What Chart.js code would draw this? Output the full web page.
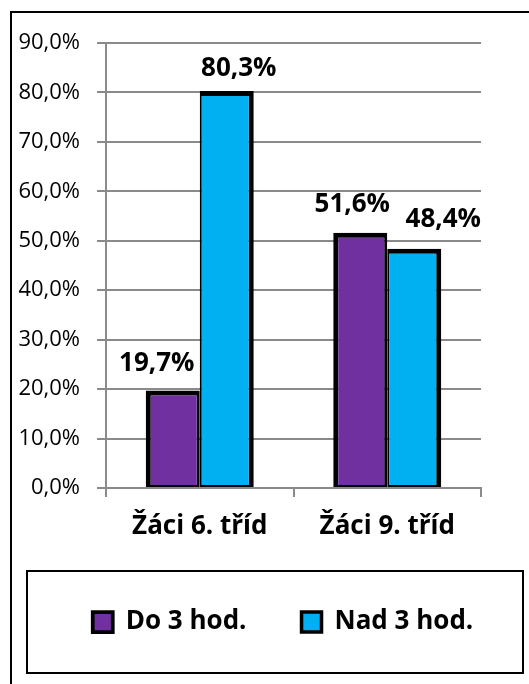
<!DOCTYPE html>
<html>
<head>
<meta charset="utf-8">
<script src="https://cdn.jsdelivr.net/npm/chart.js@4/dist/chart.umd.min.js"></script>
<style>
  html, body { margin: 0; padding: 0; background: #fff; }
  #wrap { width: 529px; height: 684px; }
</style>
</head>
<body>
<div id="wrap"><canvas id="chart" width="529" height="684"></canvas></div>
<script>
// data
var categories = ['Žáci 6. tříd', 'Žáci 9. tříd'];
var seriesNames = ['Do 3 hod.', 'Nad 3 hod.'];
var doTri = [19.7, 51.6];
var nadTri = [80.3, 48.4];
var tickLabels = ['0,0%', '10,0%', '20,0%', '30,0%', '40,0%', '50,0%', '60,0%', '70,0%', '80,0%', '90,0%'];

var FONT = "'Open Sans', sans-serif";
var GRID = '#8a8a8a';

// label nudges (dx, dy above bar top), one per bar, per dataset
var labelShift = [
    [[-16, 20], [-8, 21]],
    [[12, 15], [29, 22]]
];

function fmt(v) {
    return v.toFixed(1).replace('.', ',') + '%';
}

var framePlugin = {
    id: 'frame',
    beforeDraw: function (chart) {
        var c = chart.ctx;
        c.save();
        c.strokeStyle = '#000';
        c.lineWidth = 2;
        c.beginPath();
        c.moveTo(11, chart.height + 5);
        c.lineTo(11, 12);
        c.lineTo(chart.width + 5, 12);
        c.stroke();
        // legend box
        c.strokeRect(27, 571, 496, 102);
        c.restore();
    },
    afterLayout: function (chart) {
        var lg = chart.legend;
        lg.left = 35;
        lg.right = 531;
        lg.width = lg.right - lg.left;
    }
};

var labelPlugin = {
    id: 'valueLabels',
    afterDatasetsDraw: function (chart) {
        var c = chart.ctx;
        c.save();
        c.font = 'bold 26px ' + FONT;
        c.fillStyle = '#000';
        c.textAlign = 'center';
        c.textBaseline = 'alphabetic';
        chart.data.datasets.forEach(function (ds, i) {
            chart.getDatasetMeta(i).data.forEach(function (bar, j) {
                var s = labelShift[i][j];
                c.fillText(fmt(ds.data[j]), bar.x + s[0], bar.y - s[1]);
            });
        });
        c.restore();
    }
};

var ctx = document.getElementById('chart').getContext('2d');
var chart = new Chart(ctx, {
    type: 'bar',
    data: {
        labels: categories,
        datasets: [{
            label: seriesNames[0],
            data: doTri,
            backgroundColor: '#7030A0',
            borderColor: '#000',
            borderWidth: { top: 5, left: 5, right: 3, bottom: 2 },
            borderSkipped: false
        }, {
            label: seriesNames[1],
            data: nadTri,
            backgroundColor: '#00B0F0',
            borderColor: '#000',
            borderWidth: { top: 5, left: 2, right: 5, bottom: 2 },
            borderSkipped: false
        }]
    },
    options: {
        responsive: false,
        animation: false,
        categoryPercentage: 0.576,
        barPercentage: 1,
        layout: { padding: { top: 43, left: 0, right: 0, bottom: 39 } },
        plugins: {
            tooltip: { enabled: false },
            legend: {
                position: 'bottom',
                labels: {
                    font: { family: FONT, size: 26, weight: 'bold' },
                    color: '#000',
                    boxWidth: 20,
                    boxHeight: 20,
                    padding: 55
                }
            }
        },
        scales: {
            x: {
                grid: {
                    offset: true,
                    drawOnChartArea: false,
                    tickLength: 9,
                    color: GRID,
                    lineWidth: 2
                },
                border: { color: GRID, width: 2 },
                ticks: {
                    font: { family: FONT, size: 26, weight: 'bold' },
                    color: '#000',
                    padding: 14,
                    maxRotation: 0
                },
                afterFit: function (scale) { scale.height = 66; }
            },
            y: {
                min: 0,
                max: 90,
                ticks: {
                    stepSize: 10,
                    font: { family: FONT, size: 22 },
                    color: '#000',
                    padding: 17,
                    callback: function (v, i) { return tickLabels[i]; }
                },
                grid: { color: GRID, lineWidth: 2, tickLength: 9 },
                border: { color: GRID, width: 2 },
                afterFit: function (scale) { scale.width = 106; }
            },
            // empty right-hand spacer so the plot ends before the legend box does
            spacer: {
                position: 'right',
                ticks: { display: false },
                grid: { display: false },
                border: { display: false },
                afterFit: function (scale) { scale.width = 48; }
            }
        }
    },
    plugins: [framePlugin, labelPlugin]
});
</script>
</body>
</html>
